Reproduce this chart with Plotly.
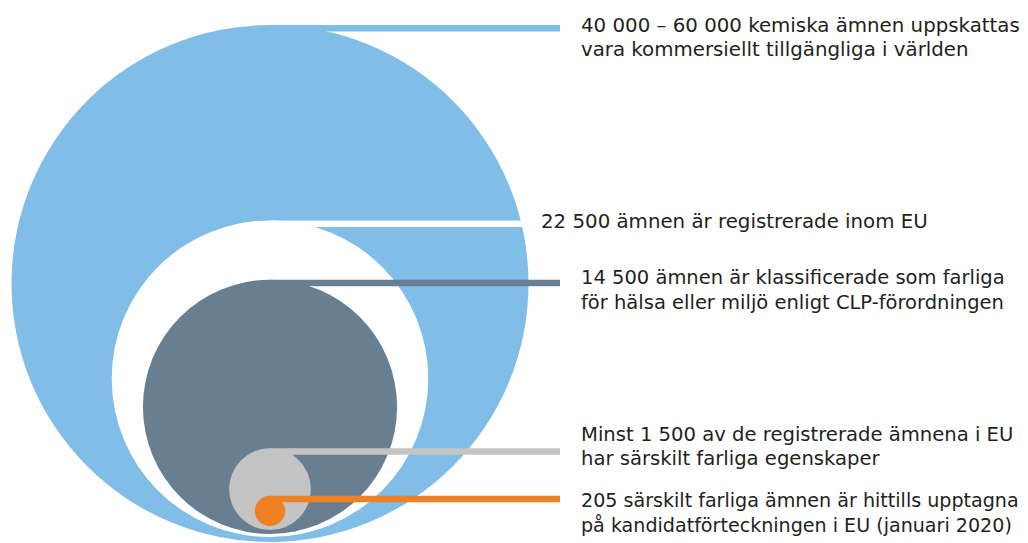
import math
import plotly.graph_objects as go

# ---- data ----
categories = ["Världen", "Registrerade i EU", "Farliga enligt CLP", "Särskilt farliga", "Kandidatförteckningen"]
values = [60000, 22500, 14500, 1500, 205]
labels = [
    "40 000 – 60 000 kemiska ämnen uppskattas\nvara kommersiellt tillgängliga i världen",
    "22 500 ämnen är registrerade inom EU",
    "14 500 ämnen är klassificerade som farliga\nför hälsa eller miljö enligt CLP-förordningen",
    "Minst 1 500 av de registrerade ämnena i EU\nhar särskilt farliga egenskaper",
    "205 särskilt farliga ämnen är hittills upptagna\npå kandidatförteckningen i EU (januari 2020)",
]

# ---- styles / layout constants ----
colors = ["#80bde7", "#ffffff", "#687f91", "#c4c4c4", "#ef8124"]
W, H = 1028, 543
CX = 270
R_MAX = 258.5
BOTTOMS = [542, 537, 534, 530, 526]
LINE_W = 6.5
LINE_END = 560
LABEL_X = [579, 539, 579, 579, 579]
LABEL_Y = [25, 221, 277.5, 434, 500.5]
LINE_GAP = 24.5
FONT_SIZES = [19.8, 19.8, 19.5, 19.6, 19.1]
FONT = "DejaVu Sans"
TEXT_COLOR = "#231f20"

vmax = max(values)
radii = [R_MAX * math.sqrt(v / vmax) for v in values]

fig = go.Figure()
shapes = []
for i, (v, r, c) in enumerate(zip(values, radii, colors)):
    bottom = BOTTOMS[i]
    top = bottom - 2 * r
    shapes.append(dict(type="circle", xref="x", yref="y", x0=CX - r, x1=CX + r,
                       y0=top, y1=bottom, fillcolor=c, line=dict(width=0), layer="above"))
    if i == 1:
        # white line ends at the edge of the outer circle
        cy0 = BOTTOMS[0] - radii[0]
        yy = top + LINE_W / 2
        x_end = CX + math.sqrt(max(radii[0] ** 2 - (cy0 - yy) ** 2, 0)) + 1
    else:
        x_end = LINE_END
    shapes.append(dict(type="rect", xref="x", yref="y", x0=CX, x1=x_end,
                       y0=top, y1=top + LINE_W, fillcolor=c, line=dict(width=0), layer="above"))

annotations = []
for i, lab in enumerate(labels):
    for j, line in enumerate(lab.split("\n")):
        annotations.append(dict(x=LABEL_X[i], y=LABEL_Y[i] + j * LINE_GAP, xref="x", yref="y",
                                text=line, showarrow=False, xanchor="left", yanchor="middle",
                                font=dict(family=FONT, size=FONT_SIZES[i], color=TEXT_COLOR)))

# invisible trace to establish the axes
fig.add_trace(go.Scatter(x=[0, W], y=[0, H], mode="markers", marker=dict(opacity=0),
                         hoverinfo="skip", showlegend=False))

fig.update_layout(
    width=W, height=H, margin=dict(l=0, r=0, t=0, b=0),
    paper_bgcolor="white", plot_bgcolor="white",
    shapes=shapes, annotations=annotations, showlegend=False,
    xaxis=dict(range=[0, W], visible=False, fixedrange=True),
    yaxis=dict(range=[H, 0], visible=False, fixedrange=True),
)
fig.write_html("out.html", config={"displayModeBar": False},
               post_script="document.body.style.margin='0';document.documentElement.style.overflow='hidden';")
